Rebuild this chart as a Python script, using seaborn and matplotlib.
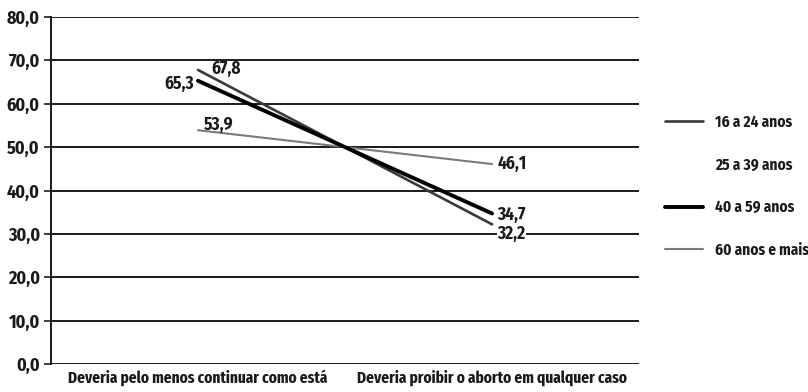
import matplotlib
matplotlib.use("Agg")
import matplotlib.pyplot as plt
import seaborn as sns
import pandas as pd
from matplotlib.lines import Line2D

categories = ["Deveria pelo menos continuar como está", "Deveria proibir o aborto em qualquer caso"]
series_names = ["16 a 24 anos", "25 a 39 anos", "40 a 59 anos", "60 anos e mais"]
v_16_24 = [67.8, 32.2]
v_25_39 = [62.0, 38.0]
v_40_59 = [65.3, 34.7]
v_60 = [53.9, 46.1]
y_ticks = [0, 10, 20, 30, 40, 50, 60, 70, 80]

sns.set_theme(style="white")
FONT = ['Fira Sans Condensed', 'DejaVu Sans']
FONT_X = ['Fira Sans Extra Condensed', 'Fira Sans Condensed', 'DejaVu Sans']
plt.rcParams['font.family'] = FONT

fig = plt.figure(figsize=(8.08, 3.92), dpi=100)
ax = fig.add_axes([0.063, 0.0714, 0.728, 0.8852])

for y in y_ticks:
    ax.axhline(y, color="#1a1a1a", lw=1.4, zorder=1)

styles = {
    "16 a 24 anos": dict(color="#3a3a3a", lw=1.9),
    "25 a 39 anos": dict(color="#ffffff", lw=1.6),
    "40 a 59 anos": dict(color="#000000", lw=2.8),
    "60 anos e mais": dict(color="#7a7a7a", lw=1.5),
}
data = {"16 a 24 anos": v_16_24, "25 a 39 anos": v_25_39,
        "40 a 59 anos": v_40_59, "60 anos e mais": v_60}

rows = []
for name in series_names:
    for c, v in zip(categories, data[name]):
        rows.append({"cat": c, "val": v, "serie": name})
df = pd.DataFrame(rows)

for name in ["25 a 39 anos", "60 anos e mais", "16 a 24 anos", "40 a 59 anos"]:
    sub = df[df.serie == name]
    z = 0.5 if name == "25 a 39 anos" else 3
    sns.lineplot(data=sub, x="cat", y="val", ax=ax, color=styles[name]["color"],
                 lw=styles[name]["lw"], zorder=z, legend=False)

ax.set_xlim(-0.5, 1.5)
ax.set_ylim(0, 80)
ax.set_yticks(y_ticks)
ax.set_yticklabels([f"{t:.1f}".replace(".", ",") for t in y_ticks],
                   fontsize=13, fontweight="bold", color="#1a1a1a")
ax.set_xticks([0, 1])
ax.set_xticklabels(categories, fontsize=12, fontweight="bold", color="#1a1a1a", family=FONT_X)
ax.tick_params(axis="y", length=5, width=1.2, color="#1a1a1a", left=True, pad=3)
ax.tick_params(axis="x", length=0, pad=4)
ax.set_xlabel("")
ax.set_ylabel("")
for s in ["top", "right", "bottom"]:
    ax.spines[s].set_visible(False)
ax.spines["left"].set_color("#1a1a1a")
ax.spines["left"].set_linewidth(1.4)
ax.spines["left"].set_zorder(5)

lab = dict(fontsize=12.5, fontweight="bold", color="#1a1a1a", zorder=6)
ax.annotate("67,8", (0, v_16_24[0]), xytext=(10, 1), textcoords="offset points", ha="left", va="center", **lab)
ax.annotate("65,3", (0, v_40_59[0]), xytext=(-3, -2), textcoords="offset points", ha="right", va="center", **lab)
ax.annotate("53,9", (0, v_60[0]), xytext=(4, 4), textcoords="offset points", ha="left", va="center", **lab)
ax.annotate("46,1", (1, v_60[1]), xytext=(4, 0), textcoords="offset points", ha="left", va="center", **lab)
ax.annotate("34,7", (1, v_40_59[1]), xytext=(4, -1), textcoords="offset points", ha="left", va="center", **lab)
ax.annotate("32,2", (1, v_16_24[1]), xytext=(4, -7), textcoords="offset points", ha="left", va="center",
            bbox=dict(facecolor="white", edgecolor="none", pad=0.5), **lab)

handles = [Line2D([], [], color=styles[n]["color"], lw=styles[n]["lw"]) for n in series_names]
leg = fig.legend(handles, series_names, loc="center left", bbox_to_anchor=(0.823, 0.525),
                 frameon=False, handlelength=2.5, handletextpad=0.8, labelspacing=1.75,
                 borderaxespad=0, borderpad=0,
                 prop=dict(family=FONT, weight="bold", size=11))
for t in leg.get_texts():
    t.set_color("#1a1a1a")

fig.savefig("out.png", dpi=100, facecolor="white")
